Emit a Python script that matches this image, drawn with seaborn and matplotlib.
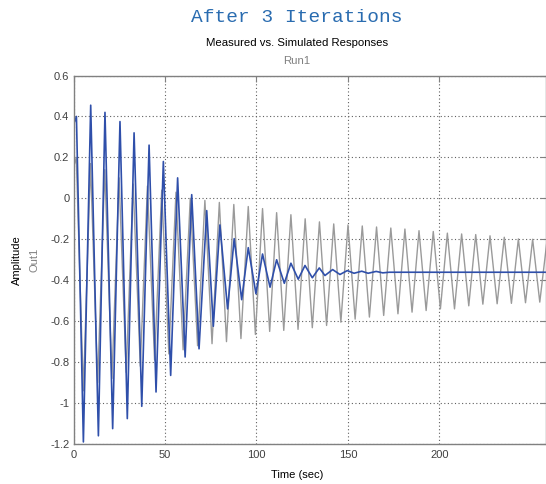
import numpy as np
import pandas as pd
import matplotlib
matplotlib.use("Agg")
import matplotlib.pyplot as plt
import seaborn as sns

sns.set_theme(style="white")
plt.rcParams['font.family'] = ['Liberation Sans', 'DejaVu Sans']
plt.rcParams['axes.unicode_minus'] = False

# ---------------- data ----------------
# Measured response: start point, local maxima and local minima
meas_start_t = [0.0]
meas_start_v = [0.15]
meas_peak_t = [1.5, 9.3, 17.1, 24.9, 32.6, 40.4, 48.2, 56.0, 63.8, 71.8, 79.7,
               87.6, 95.5, 103.3, 111.0, 118.8, 126.6, 134.4, 142.2, 150.0,
               157.8, 165.6, 173.4, 181.1, 188.8, 196.6, 204.3, 212.1, 219.8,
               227.6, 235.4, 243.1, 250.9, 258.7]
meas_peak_v = [0.20, 0.17, 0.14, 0.10, 0.07, 0.06, 0.04, 0.03, 0.00, -0.01,
               -0.02, -0.03, -0.04, -0.05, -0.07, -0.08, -0.10, -0.115, -0.125,
               -0.13, -0.135, -0.14, -0.145, -0.15, -0.158, -0.162, -0.17,
               -0.174, -0.177, -0.183, -0.19, -0.198, -0.20, -0.21]
meas_trough_t = [5.4, 13.2, 21.0, 28.8, 36.5, 44.3, 52.1, 59.9, 67.8, 75.7,
                 83.6, 91.5, 99.4, 107.2, 114.9, 122.7, 130.5, 138.3, 146.1,
                 153.9, 161.7, 169.5, 177.3, 185.0, 192.7, 200.5, 208.2, 216.0,
                 223.7, 231.5, 239.3, 247.0, 254.8]
meas_trough_v = [-0.94, -0.90, -0.88, -0.85, -0.82, -0.79, -0.76, -0.74, -0.72,
                 -0.71, -0.70, -0.685, -0.665, -0.65, -0.645, -0.64, -0.632,
                 -0.621, -0.605, -0.59, -0.58, -0.572, -0.564, -0.556, -0.548,
                 -0.54, -0.54, -0.525, -0.517, -0.515, -0.513, -0.51, -0.507]

# Simulated response: turning points, then flat steady state
sim_t = [0.0, 1.6, 5.4, 9.4, 13.6, 17.2, 21.4, 25.4, 29.4, 33.1, 37.3, 41.3,
         45.1, 49.1, 53.1, 56.9, 61.0, 64.6, 68.6, 72.8, 76.4, 80.0, 84.2,
         87.8, 91.9, 95.5, 99.7, 103.3, 107.4, 111.0, 115.2, 118.8, 122.8,
         126.5, 130.5, 134.3, 137.4, 141.6, 145.6, 149.6, 153.3, 157.5, 161.0,
         165.4, 169.0, 172.5, 258.5]
sim_v = [0.36, 0.40, -1.19, 0.455, -1.16, 0.42, -1.125, 0.375, -1.076, 0.32,
         -1.016, 0.26, -0.946, 0.18, -0.865, 0.10, -0.775, 0.018, -0.735,
         -0.06, -0.625, -0.13, -0.54, -0.197, -0.495, -0.241, -0.466, -0.272,
         -0.434, -0.30, -0.415, -0.317, -0.395, -0.328, -0.388, -0.34, -0.377,
         -0.348, -0.372, -0.353, -0.366, -0.356, -0.366, -0.357, -0.364,
         -0.361, -0.361]

x_ticks = [0, 50, 100, 150, 200]
y_ticks = [-1.2, -1.0, -0.8, -0.6, -0.4, -0.2, 0.0, 0.2, 0.4, 0.6]
y_tick_labels = ["-1.2", "-1", "-0.8", "-0.6", "-0.4", "-0.2", "0", "0.2", "0.4", "0.6"]

# ---------------- build tables ----------------
meas = pd.DataFrame({
    "t": meas_start_t + meas_peak_t + meas_trough_t,
    "v": meas_start_v + meas_peak_v + meas_trough_v,
}).sort_values("t")
sim = pd.DataFrame({"t": sim_t, "v": sim_v})

# ---------------- figure ----------------
W, H = 546, 484
fig = plt.figure(figsize=(W / 100, H / 100), dpi=100)
ax = fig.add_axes([73.5 / W, 1 - 444 / H, (546 - 73.5) / W, (444 - 75.5) / H])

sns.lineplot(data=meas, x="t", y="v", ax=ax, color="#9a9a9a", linewidth=1.0,
             estimator=None, sort=False)
sns.lineplot(data=sim, x="t", y="v", ax=ax, color="#2f4faa", linewidth=1.2,
             estimator=None, sort=False)

ax.set_xlim(0, 258.2)
ax.set_ylim(-1.2, 0.6)
ax.set_xticks(x_ticks)
ax.set_xticklabels([str(v) for v in x_ticks])
ax.set_yticks(y_ticks)
ax.set_yticklabels(y_tick_labels)
ax.set_xlabel("")
ax.set_ylabel("")

ax.grid(True, linestyle=(0, (1, 2.2)), color="#606060", linewidth=0.8)
ax.tick_params(axis="both", direction="in", top=True, right=True, length=4,
               width=0.8, color="#808080", labelcolor="#404040", labelsize=8)
ax.tick_params(axis="x", pad=4)
ax.tick_params(axis="y", pad=3)
for s in ax.spines.values():
    s.set_color("#808080")
    s.set_linewidth(1.0)

cx = 297 / W
fig.text(cx, 1 - 21.5 / H, "After 3 Iterations", family=["Liberation Mono"],
         fontsize=14, color="#2a6cb0", ha="center", va="baseline")
fig.text(cx, 1 - 46.5 / H, "Measured vs. Simulated Responses", fontsize=8.2,
         color="#000000", ha="center", va="baseline")
fig.text(cx, 1 - 64.5 / H, "Run1", fontsize=8.2, color="#808080",
         ha="center", va="baseline")
fig.text(cx, 1 - 478 / H, "Time (sec)", fontsize=8, color="#000000",
         ha="center", va="baseline")
fig.text(17 / W, 1 - 260 / H, "Amplitude", fontsize=8, color="#000000",
         ha="center", va="center", rotation=90)
fig.text(35 / W, 1 - 260 / H, "Out1", fontsize=8, color="#808080",
         ha="center", va="center", rotation=90)

fig.savefig("out.png", dpi=100)
